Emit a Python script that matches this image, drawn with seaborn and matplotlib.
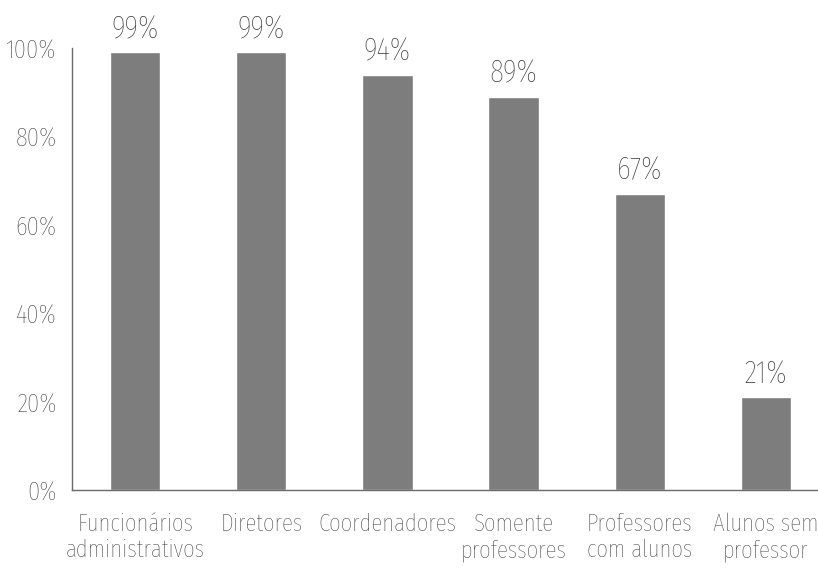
import matplotlib
matplotlib.use('Agg')
import matplotlib.pyplot as plt
from matplotlib.ticker import MultipleLocator, FuncFormatter
import seaborn as sns
import pandas as pd

categories = ['Funcionários\nadministrativos', 'Diretores', 'Coordenadores',
              'Somente\nprofessores', 'Professores\ncom alunos', 'Alunos sem\nprofessor']
values = [99, 99, 94, 89, 67, 21]

sns.set_style('white')
plt.rcParams['font.family'] = ['Fira Sans Extra Condensed', 'DejaVu Sans']
plt.rcParams['font.weight'] = 'light'

text_color = '#333333'
bar_color = '#7d7d7d'
axis_color = '#6a6a6a'

df = pd.DataFrame({'category': categories, 'value': values})

fig = plt.figure(figsize=(8.18, 5.74), dpi=100)
ax = fig.add_axes([72 / 818, 84 / 574, 757 / 818, 442 / 574])

sns.barplot(data=df, x='category', y='value', color=bar_color,
            width=0.4, saturation=1, ax=ax)

for i, v in enumerate(values):
    ax.annotate(f'{v}%', (i, v), xytext=(0, 6), textcoords='offset points',
                ha='center', va='bottom', fontsize=23, color=text_color,
                annotation_clip=False)

ax.set_xlim(-0.5, 5.5)
ax.set_ylim(0, 100)
ax.yaxis.set_major_locator(MultipleLocator(20))
ax.yaxis.set_minor_locator(MultipleLocator(10))
ax.yaxis.set_major_formatter(FuncFormatter(lambda y, _: f'{y:.0f}%'))

# x ticks sit between categories
ax.set_xticks([i + 0.5 for i in range(5)], minor=False)
ax.set_xticklabels([])
ax.set_xticks(range(6), minor=True)
ax.set_xticklabels(categories, minor=True)
ax.tick_params(axis='x', which='minor', length=0, pad=16,
               labelsize=18, labelcolor=text_color)
ax.tick_params(axis='x', which='major', length=5, width=0.8, color=axis_color)
ax.tick_params(axis='y', which='both', length=5, width=0.8, color=axis_color,
               labelsize=19.5, labelcolor=text_color, pad=6)
for lab in ax.get_xticklabels(minor=True):
    lab.set_linespacing(1.2)

ax.set_xlabel('')
ax.set_ylabel('')
for s in ['top', 'right']:
    ax.spines[s].set_visible(False)
for s in ['left', 'bottom']:
    ax.spines[s].set_color(axis_color)
    ax.spines[s].set_linewidth(1.0)

fig.savefig('out.png', dpi=100)
